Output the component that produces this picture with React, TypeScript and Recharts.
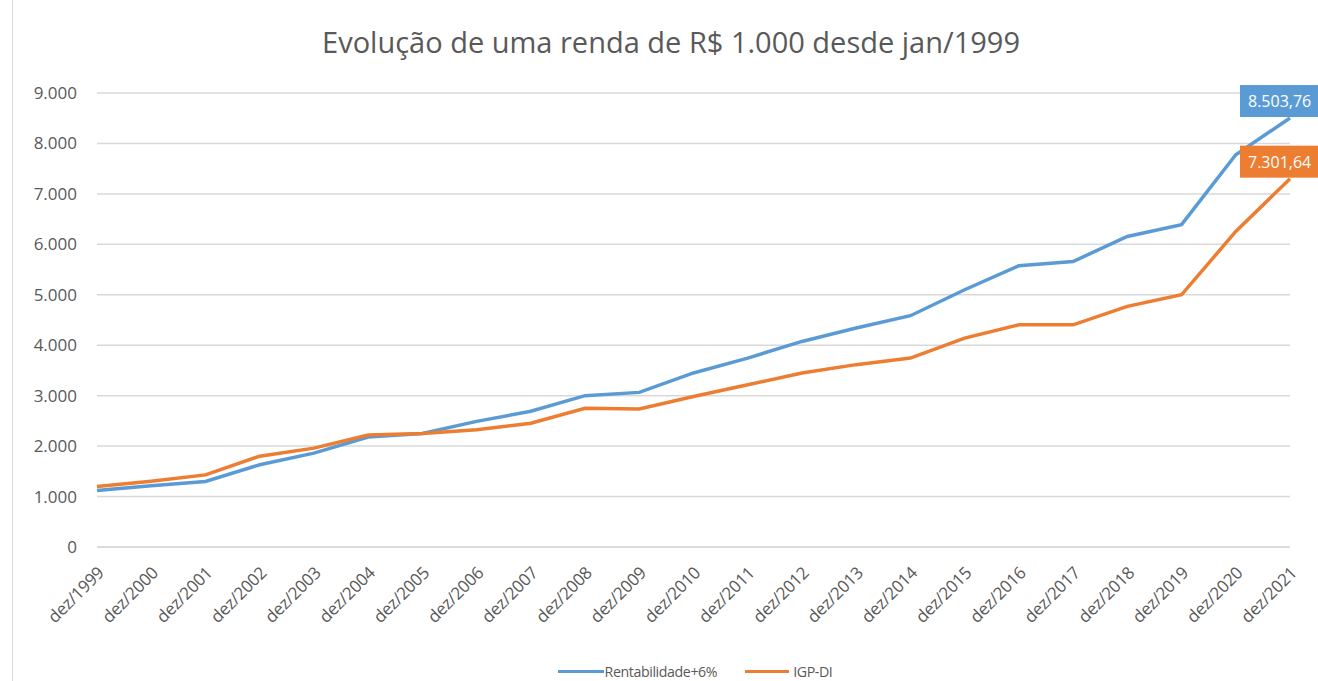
import React from 'react';
import { LineChart, Line, XAxis, YAxis, CartesianGrid, Legend } from 'recharts';

const categories = [
  'dez/1999', 'dez/2000', 'dez/2001', 'dez/2002', 'dez/2003', 'dez/2004', 'dez/2005', 'dez/2006',
  'dez/2007', 'dez/2008', 'dez/2009', 'dez/2010', 'dez/2011', 'dez/2012', 'dez/2013', 'dez/2014',
  'dez/2015', 'dez/2016', 'dez/2017', 'dez/2018', 'dez/2019', 'dez/2020', 'dez/2021',
];
const rentabilidade = [
  1120, 1215, 1300, 1630, 1860, 2180, 2250, 2490, 2690, 3000, 3065, 3450,
  3745, 4075, 4340, 4585, 5100, 5575, 5660, 6155, 6390, 7775, 8503.76,
];
const igpdi = [
  1200, 1305, 1430, 1800, 1960, 2220, 2250, 2325, 2455, 2750, 2735, 2985,
  3215, 3450, 3615, 3745, 4140, 4405, 4405, 4770, 5000, 6255, 7301.64,
];
const yTicks = [0, 1000, 2000, 3000, 4000, 5000, 6000, 7000, 8000, 9000];
const title = 'Evolução de uma renda de R$ 1.000 desde jan/1999';
const seriesNames = ['Rentabilidade+6%', 'IGP-DI'];

const BLUE = '#5b9bd5';
const ORANGE = '#ed7d31';
const TEXT = '#595959';
const GRID = '#d9d9d9';
const FONT = '"Open Sans", sans-serif';

const data = categories.map((c, i) => ({ cat: c, rent: rentabilidade[i], igp: igpdi[i] }));

const fmtInt = (n: number) => String(Math.round(n)).replace(/\B(?=(\d{3})+(?!\d))/g, '.');
const fmtDec = (n: number) => {
  const [a, b] = n.toFixed(2).split('.');
  return a.replace(/\B(?=(\d{3})+(?!\d))/g, '.') + ',' + b;
};

const XTick = (props: any) => {
  const { x, y, payload } = props;
  const ax = x + 8;
  const ay = y + 19;
  return (
    <text x={ax} y={ay} transform={`rotate(-45, ${ax}, ${ay})`} textAnchor="end"
      fill={TEXT} fontSize={17} letterSpacing={-0.3} fontFamily={FONT}>{payload.value}</text>
  );
};

const makeLabel = (color: string) => (props: any) => {
  const { x, y, index, value } = props;
  if (index !== categories.length - 1) return null;
  return (
    <g>
      <rect x={x - 50} y={y - 33} width={110} height={32} fill={color} />
      <text x={x - 42} y={y - 11} fill="#ffffff" fontSize={16} fontFamily={FONT}>{fmtDec(value)}</text>
    </g>
  );
};

const LegendContent = () => (
  <div style={{ display: 'flex', justifyContent: 'center', alignItems: 'center', height: 20, fontFamily: FONT, fontSize: 14.2, letterSpacing: -0.4, color: TEXT, paddingLeft: 100 }}>
    <span style={{ display: 'inline-block', width: 46, height: 3, background: BLUE, marginRight: 1 }} />
    <span style={{ marginRight: 28 }}>{seriesNames[0]}</span>
    <span style={{ display: 'inline-block', width: 44, height: 3, background: ORANGE, marginRight: 4 }} />
    <span>{seriesNames[1]}</span>
  </div>
);

export default function App() {
  return (
    <div style={{ position: 'relative', width: 1318, height: 681, background: '#fff', overflow: 'hidden' }}>
      <style>{`body{margin:0;}`}</style>
      <div style={{ position: 'absolute', left: 12, top: 0, width: 1, height: 681, background: GRID }} />
      <div style={{ position: 'absolute', left: 0, top: 22, width: 1342, textAlign: 'center', fontFamily: FONT, fontSize: 29, color: TEXT, zIndex: 2 }}>
        {title}
      </div>
      <LineChart width={1318} height={681} data={data} margin={{ top: 93, right: 28, bottom: 0, left: 0 }}>
        <CartesianGrid vertical={false} stroke={GRID} strokeWidth={1.5} />
        <XAxis dataKey="cat" interval={0} tickLine={false} axisLine={{ stroke: GRID, strokeWidth: 1.5 }} height={114} tick={<XTick />} />
        <YAxis domain={[0, 9000]} ticks={yTicks} width={97} axisLine={false} tickLine={false} tickMargin={14}
          tickFormatter={fmtInt} tick={{ fill: TEXT, fontSize: 17, fontFamily: FONT }} />
        <Legend verticalAlign="bottom" content={<LegendContent />} wrapperStyle={{ height: 20 }} />
        <Line type="linear" dataKey="rent" name={seriesNames[0]} stroke={BLUE} strokeWidth={3.5} dot={false} isAnimationActive={false} label={makeLabel(BLUE)} />
        <Line type="linear" dataKey="igp" name={seriesNames[1]} stroke={ORANGE} strokeWidth={3.5} dot={false} isAnimationActive={false} label={makeLabel(ORANGE)} />
      </LineChart>
    </div>
  );
}
